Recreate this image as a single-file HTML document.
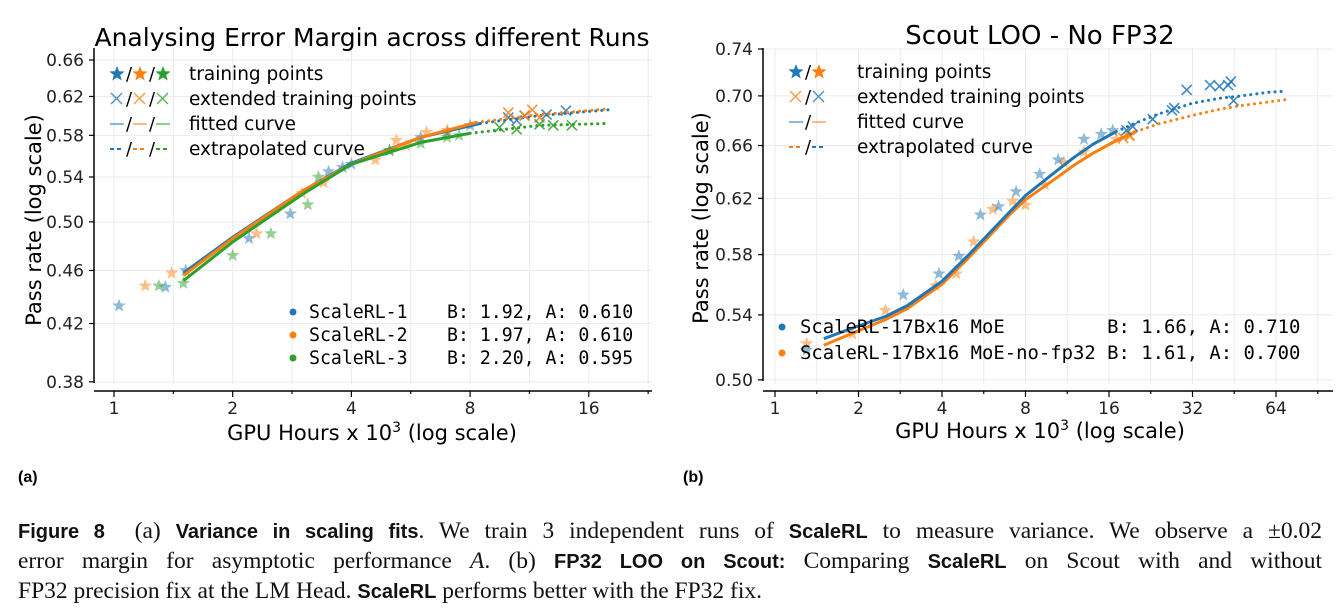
<!DOCTYPE html>
<html><head><meta charset="utf-8"><style>
body{margin:0;width:1340px;height:614px;background:#fff;overflow:hidden;position:relative}
svg{position:absolute;left:0;top:0}
.cap{position:absolute;left:18px;width:1304px;font-family:"Liberation Serif",serif;font-size:23.5px;line-height:30px;text-align:justify;text-align-last:justify;color:#111;white-space:nowrap}
.b{font-family:"Liberation Sans",sans-serif;font-weight:bold;font-size:20px}
</style></head><body>
<svg id="fig" width="1340" height="614" font-family="'DejaVu Sans','Liberation Sans',sans-serif"></svg>
<div class="cap" style="top:516px"><span class="b">Figure 8</span>&nbsp; (a) <span class="b">Variance in scaling fits</span>. We train 3 independent runs of <span class="b">ScaleRL</span> to measure variance. We observe a ±0.02</div>
<div class="cap" style="top:546px">error margin for asymptotic performance <i>A</i>. (b) <span class="b">FP32 LOO on Scout:</span> Comparing <span class="b">ScaleRL</span> on Scout with and without</div>
<div class="cap" style="top:576px;text-align-last:left">FP32 precision fix at the LM Head. <span class="b">ScaleRL</span> performs better with the FP32 fix.</div>
<script>
// ---- Chart A data ----
const aXTicks=[1,2,4,8,16];
const aYTicks=[0.38,0.42,0.46,0.50,0.54,0.58,0.62,0.66];
const aFitX1=[1.5,2,3,4,6,8.5], aFitY1=[0.458,0.487,0.527,0.553,0.578,0.592];
const aExtX1=[8.5,12,18], aExtY1=[0.592,0.600,0.606];
const aFitX2=[1.5,2,3,4,6,8.3], aFitY2=[0.456,0.486,0.527,0.552,0.578,0.593];
const aExtX2=[8.3,12,18], aExtY2=[0.593,0.601,0.607];
const aFitX3=[1.5,2,3,4,6,8], aFitY3=[0.452,0.483,0.524,0.552,0.573,0.582];
const aExtX3=[8,12,18], aExtY3=[0.582,0.590,0.592];
const aStarX1=[1.03,1.35,1.52,2.2,2.8,3.5,3.8,4.0,5.0,6.0,7.0,8.0], aStarY1=[0.433,0.447,0.460,0.486,0.507,0.545,0.549,0.552,0.565,0.578,0.583,0.590];
const aStarX2=[1.2,1.4,2.3,3.0,3.4,4.6,5.2,5.5,6.2,7.0], aStarY2=[0.448,0.458,0.490,0.525,0.535,0.556,0.575,0.570,0.583,0.585];
const aStarX3=[1.3,1.5,2.0,2.5,3.1,3.3,5.0,6.0,7.0,7.5], aStarY3=[0.448,0.450,0.472,0.490,0.515,0.540,0.565,0.572,0.578,0.580];
const aCrossX1=[10,10.5,11,12.5,14], aCrossY1=[0.598,0.595,0.600,0.601,0.605];
const aCrossX2=[10,11,11.5,12], aCrossY2=[0.603,0.600,0.606,0.598];
const aCrossX3=[9.5,10.5,12,13,14.5], aCrossY3=[0.588,0.586,0.591,0.590,0.590];
// ---- Chart B data ----
const bXTicks=[1,2,4,8,16,32,64];
const bYTicks=[0.50,0.54,0.58,0.62,0.66,0.70,0.74];
const bFitX1=[1.5,2,2.5,3,4,5,6,7,8,10,12,14,17], bFitY1=[0.525,0.533,0.539,0.546,0.562,0.580,0.596,0.610,0.622,0.638,0.651,0.661,0.671];
const bExtX1=[17,20,24,32,40,48,60,70], bExtY1=[0.671,0.678,0.685,0.694,0.698,0.700,0.703,0.704];
const bFitX2=[1.5,2,2.5,3,4,5,6,7,8,10,12,14,17,20], bFitY2=[0.521,0.530,0.537,0.544,0.560,0.578,0.594,0.608,0.619,0.633,0.645,0.654,0.664,0.671];
const bExtX2=[20,24,32,40,48,60,70], bExtY2=[0.671,0.677,0.684,0.689,0.692,0.695,0.697];
const bStarX1=[1.3,2.9,3.9,4.6,5.5,6.4,7.4,9,10.5,13,15,16.5], bStarY1=[0.518,0.553,0.567,0.579,0.608,0.614,0.625,0.638,0.649,0.665,0.669,0.672];
const bStarX2=[1.3,1.9,2.5,3.8,4.5,5.2,6.1,7.2,8,9.4,11,13,17,19], bStarY2=[0.522,0.528,0.543,0.559,0.567,0.589,0.612,0.618,0.615,0.630,0.647,0.655,0.665,0.668];
const bCrossX1=[18.5,19.5,23,27,27.5,30.5,37,40,43,44,45], bCrossY1=[0.672,0.675,0.681,0.688,0.690,0.705,0.709,0.708,0.709,0.712,0.696];
const bCrossX2=[18,19], bCrossY2=[0.666,0.668];

const NS="http://www.w3.org/2000/svg", svg=document.getElementById('fig');
const C=['#1f77b4','#ff7f0e','#2ca02c'];
function mk(t,a,p){const e=document.createElementNS(NS,t);for(const k in a)e.setAttribute(k,a[k]);(p||svg).appendChild(e);return e;}
function txt(s,a,p){const e=mk('text',a,p);e.textContent=s;return e;}
function star(cx,cy,r){let p=[];for(let i=0;i<10;i++){const rr=i%2?r*0.42:r,an=-Math.PI/2+i*Math.PI/5;p.push((cx+rr*Math.cos(an)).toFixed(1)+','+(cy+rr*Math.sin(an)).toFixed(1));}return p.join(' ');}

function chart(g,c){
  const X=v=>c.x0+Math.log2(v)*c.dx, Y=v=>c.y0-Math.log(v/c.yRef)*c.dy;
  for(let k=0;k<=c.nHalf;k++){const gx=c.x0+k*c.dx/2; if(gx>c.r)break;
    const gl=mk('line',{x1:gx,x2:gx,y1:c.top,y2:c.bot,stroke:'#ebebeb','stroke-width':1},g);
    
    }
  c.yt.forEach(v=>{const gl=mk('line',{x1:c.l,x2:c.r,y1:Y(v),y2:Y(v),stroke:'#ebebeb','stroke-width':1},g);
    
    
    const tk=mk('line',{x1:c.l-5,x2:c.l,y1:Y(v),y2:Y(v),stroke:'#000','stroke-width':1.2},g);
    
    
    const t=txt(v.toFixed(2),{x:c.l-10,y:Y(v)+6,'text-anchor':'end','font-size':17,fill:'#222'},g);
    
    });
  const ys=mk('line',{x1:c.l,x2:c.l,y1:c.top,y2:c.yAxEnd,stroke:'#000','stroke-width':1.5},g);
  
  
  const xs=mk('line',{x1:c.l,x2:c.r,y1:c.xAxY,y2:c.xAxY,stroke:'#000','stroke-width':1.5},g);
  
  
  for(let k=0;k<=c.nHalf;k++){const gx=c.x0+k*c.dx/2; if(gx>c.r)break;
    const tk=mk('line',{x1:gx,x2:gx,y1:c.xAxY,y2:c.xAxY+(k%2?3:6),stroke:'#000','stroke-width':1.2},g);
    
    }
  c.xt.forEach(v=>{const t=txt(String(v),{x:X(v),y:c.xAxY+23,'text-anchor':'middle','font-size':17,fill:'#222'},g);
    
    });
  c.series.forEach(s=>{
    const pts=(xs,ys)=>xs.map((v,i)=>X(v).toFixed(1)+','+Y(ys[i]).toFixed(1)).join(' ');
    s.sx.forEach((v,i)=>{const p=mk('polygon',{points:star(X(v),Y(s.sy[i]),7),fill:s.col,'fill-opacity':0.5},g);
      
      });
    s.cx.forEach((v,i)=>{const x=X(v),y=Y(s.cy[i]);const p=mk('path',{d:`M${x-5},${y-5}L${x+5},${y+5}M${x-5},${y+5}L${x+5},${y-5}`,stroke:s.col,'stroke-width':1.6,fill:'none','stroke-opacity':0.85},g);
      
      });
    const f=mk('polyline',{points:pts(s.fx,s.fy),fill:'none',stroke:s.col,'stroke-width':3,'stroke-linejoin':'round'},g);
    
    
    const e=mk('polyline',{points:pts(s.ex,s.ey),fill:'none',stroke:s.col,'stroke-width':3,'stroke-dasharray':'0.1 6','stroke-linecap':'round'},g);
    
    
  });
}

const gA=mk('g',{});


chart(gA,{x0:114,dx:118.7,yRef:0.66,y0:60,dy:583,l:94,r:652,top:48,bot:384,yAxEnd:383,xAxY:391,nHalf:10,xt:aXTicks,yt:aYTicks,
 series:[{col:C[0],fx:aFitX1,fy:aFitY1,ex:aExtX1,ey:aExtY1,sx:aStarX1,sy:aStarY1,cx:aCrossX1,cy:aCrossY1},
         {col:C[1],fx:aFitX2,fy:aFitY2,ex:aExtX2,ey:aExtY2,sx:aStarX2,sy:aStarY2,cx:aCrossX2,cy:aCrossY2},
         {col:C[2],fx:aFitX3,fy:aFitY3,ex:aExtX3,ey:aExtY3,sx:aStarX3,sy:aStarY3,cx:aCrossX3,cy:aCrossY3}]});
const gB=mk('g',{});


chart(gB,{x0:775,dx:83.5,yRef:0.74,y0:49,dy:844,l:763,r:1333,top:48,bot:384,yAxEnd:381,xAxY:391,nHalf:14,xt:bXTicks,yt:bYTicks,
 series:[{col:C[1],fx:bFitX2,fy:bFitY2,ex:bExtX2,ey:bExtY2,sx:bStarX2,sy:bStarY2,cx:bCrossX2,cy:bCrossY2},
         {col:C[0],fx:bFitX1,fy:bFitY1,ex:bExtX1,ey:bExtY1,sx:bStarX1,sy:bStarY1,cx:bCrossX1,cy:bCrossY1}]});

function T(s,a,n){const t=txt(s,a);return t;}
T('Analysing Error Margin across different Runs',{x:372,y:46,'text-anchor':'middle','font-size':25},'chart-a-title');
T('Scout LOO - No FP32',{x:1040,y:44,'text-anchor':'middle','font-size':26},'chart-b-title');
const xa=T('GPU Hours x 10',{x:372,y:440,'text-anchor':'middle','font-size':21},'chart-a-x-axis-title');
const s1=mk('tspan',{dy:-8,'font-size':14},xa);s1.textContent='3';const s2=mk('tspan',{dy:8},xa);s2.textContent=' (log scale)';
const xb=T('GPU Hours x 10',{x:1040,y:438,'text-anchor':'middle','font-size':21},'chart-b-x-axis-title');
const s3=mk('tspan',{dy:-8,'font-size':14},xb);s3.textContent='3';const s4=mk('tspan',{dy:8},xb);s4.textContent=' (log scale)';
T('Pass rate (log scale)',{x:0,y:0,transform:'translate(41,220) rotate(-90)','text-anchor':'middle','font-size':21},'chart-a-y-axis-title');
T('Pass rate (log scale)',{x:0,y:0,transform:'translate(708,218) rotate(-90)','text-anchor':'middle','font-size':21},'chart-b-y-axis-title');
T('(a)',{x:18,y:482,'font-size':16,'font-weight':'bold','font-family':'Liberation Sans'},'panel-a-label');
T('(b)',{x:683,y:482,'font-size':16,'font-weight':'bold','font-family':'Liberation Sans'},'panel-b-label');

function legIcons(x,y,cols,kind){let cx=x;cols.forEach((c,i)=>{
  if(kind==='star')mk('polygon',{points:star(cx+7,y-6,8),fill:c});
  if(kind==='x')mk('path',{d:`M${cx+1},${y-12}L${cx+12},${y-1}M${cx+1},${y-1}L${cx+12},${y-12}`,stroke:c,'stroke-width':1.3,'stroke-opacity':0.8,fill:'none'});
  if(kind==='line')mk('line',{x1:cx,x2:cx+14,y1:y-6,y2:y-6,stroke:c,'stroke-width':1.5,'stroke-opacity':0.7});
  if(kind==='dash')mk('line',{x1:cx,x2:cx+14,y1:y-6,y2:y-6,stroke:c,'stroke-width':2,'stroke-dasharray':'4 3'});
  cx+=16; if(i<cols.length-1){txt('/',{x:cx,y:y,'font-size':18});cx+=7;}});}
const leg=[['star','training points'],['x','extended training points'],['line','fitted curve'],['dash','extrapolated curve']];
leg.forEach((l,i)=>{const y=80+i*25;legIcons(110,y,C,l[0]);T(l[1],{x:189,y:y,'font-size':18.5},'chart-a-legend-entry');});
const colsB=[[C[0],C[1]],[C[1],C[0]],[C[0],C[1]],[C[1],C[0]]];
leg.forEach((l,i)=>{const y=78+i*25;legIcons(789,y,colsB[i],l[0]);T(l[1],{x:857,y:y,'font-size':18.5},'chart-b-legend-entry');});
const runs=[['ScaleRL-1','B: 1.92, A: 0.610'],['ScaleRL-2','B: 1.97, A: 0.610'],['ScaleRL-3','B: 2.20, A: 0.595']];
runs.forEach((r,i)=>{const y=318+i*23;mk('circle',{cx:293,cy:y-6,r:3.5,fill:C[i]});
  T(r[0],{x:309,y:y,'font-size':18.2,'font-family':'DejaVu Sans Mono,Liberation Mono,monospace'},'run-legend-name');
  T(r[1],{x:447,y:y,'font-size':18.2,'font-family':'DejaVu Sans Mono,Liberation Mono,monospace'},'run-legend-fit');});
const runsB=[['ScaleRL-17Bx16 MoE         B: 1.66, A: 0.710',C[0]],['ScaleRL-17Bx16 MoE-no-fp32 B: 1.61, A: 0.700',C[1]]];
runsB.forEach((r,i)=>{const y=333+i*26;mk('circle',{cx:782,cy:y-6,r:3.5,fill:r[1]});
  const t=T(r[0],{x:800,y:y,'font-size':18.9,'font-family':'DejaVu Sans Mono,Liberation Mono,monospace'},'run-legend-entry');t.setAttribute('xml:space','preserve');t.style.whiteSpace='pre';});
</script>
</body></html>
